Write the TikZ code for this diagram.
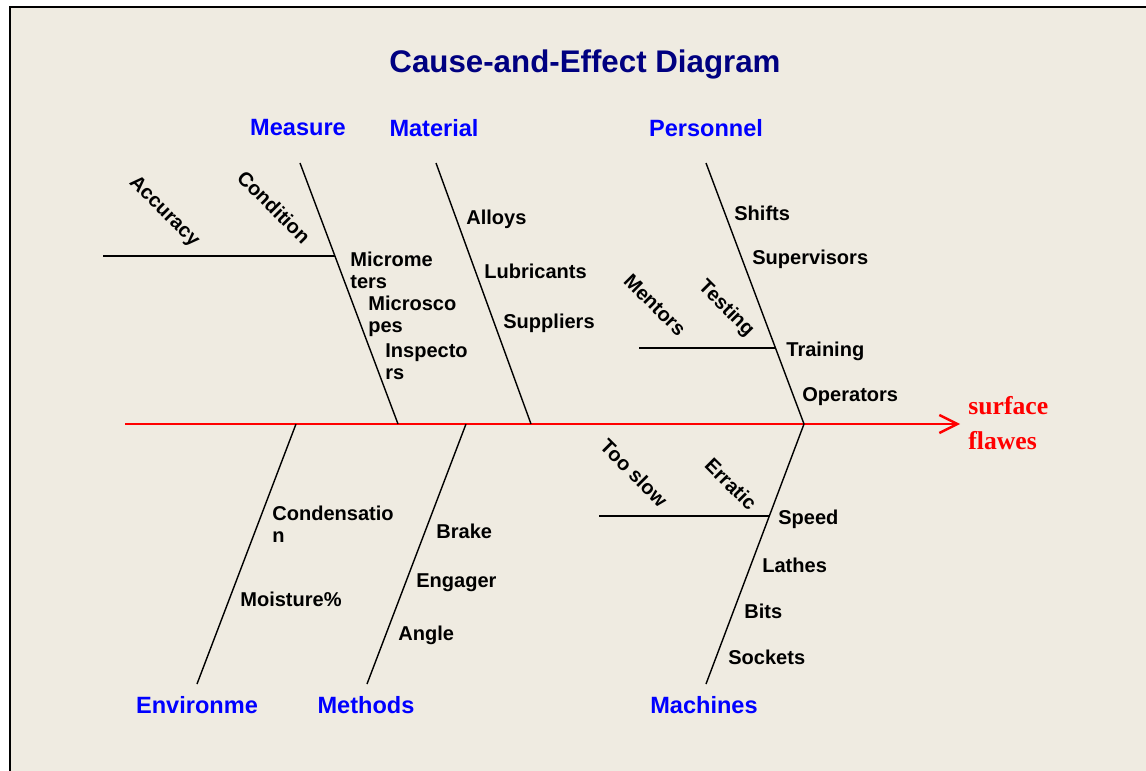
\documentclass[tikz,border=0pt]{standalone}
\usepackage{fontspec}
\setmainfont{Liberation Sans}
\newfontfamily\effectfont{Liberation Serif}
\usetikzlibrary{arrows.meta}
\definecolor{paper}{RGB}{239,235,225}
\definecolor{navy}{RGB}{0,0,128}
\begin{document}
\begin{tikzpicture}[
		bone/.style={draw=black,line width=0.8pt},
		cause/.style={anchor=west,align=left,inner sep=0pt,font=\fontsize{11.4}{12.5}\selectfont\bfseries},
		category/.style={text=blue,inner sep=0pt,font=\fontsize{13.4}{15}\selectfont\bfseries},
		subcause/.style={rotate=-45,inner sep=0pt,font=\fontsize{11.4}{12.5}\selectfont\bfseries}
	]
	\useasboundingbox (0,0) rectangle (22.92,-15.42);
	% paper and frame
	\fill[white] (0,0) rectangle (22.92,-15.42);
	\fill[paper] (0.2,-0.14) rectangle (22.92,-15.42);
	\draw[line width=1.1pt] (0.2,-15.42)--(0.2,-0.14)--(22.92,-0.14);
	% title
	\node[text=navy,font=\fontsize{17.8}{20}\selectfont\bfseries] (title) at (11.7,-1.28) {Cause-and-Effect Diagram};
	% spine and effect
	\coordinate (tail) at (2.5,-8.48);
	\coordinate (head) at (19.2,-8.48);
	\draw[red,line width=1.1pt,-{Straight Barb[length=3.6mm,width=3.6mm,line width=1.4pt]}] (tail)--(head);
	\node[anchor=west,align=left,text=red,inner sep=0pt,font=\effectfont\fontsize{14.6}{20}\selectfont\bfseries] (effect) at (19.36,-8.47) {surface\\flawes};
	% main bones
	\coordinate (meas) at (6.0,-3.26);
	\coordinate (meas-j) at (7.96,-8.48);
	\coordinate (mat) at (8.72,-3.26);
	\coordinate (mat-j) at (10.62,-8.48);
	\coordinate (pers) at (14.12,-3.26);
	\coordinate (pers-j) at (16.08,-8.48);
	\coordinate (env) at (3.94,-13.68);
	\coordinate (env-j) at (5.92,-8.48);
	\coordinate (meth) at (7.34,-13.68);
	\coordinate (meth-j) at (9.32,-8.48);
	\coordinate (mach) at (14.12,-13.68);
	\coordinate (mach-j) at (16.08,-8.48);
	\draw[bone] (meas)--(meas-j);
	\draw[bone] (mat)--(mat-j);
	\draw[bone] (pers)--(pers-j);
	\draw[bone] (env)--(env-j);
	\draw[bone] (meth)--(meth-j);
	\draw[bone] (mach)--(mach-j);
	% side bones
	\coordinate (micro-a) at (2.06,-5.12);
	\coordinate (micro-b) at (6.70,-5.12);
	\coordinate (train-a) at (12.78,-6.96);
	\coordinate (train-b) at (15.51,-6.96);
	\coordinate (speed-a) at (11.98,-10.32);
	\coordinate (speed-b) at (15.39,-10.32);
	\draw[bone] (micro-a)--(micro-b);
	\draw[bone] (train-a)--(train-b);
	\draw[bone] (speed-a)--(speed-b);
	% categories
	\node[category] (measure) at (5.96,-2.56) {Measure};
	\node[category] (material) at (8.68,-2.56) {Material};
	\node[category] (personnel) at (14.12,-2.56) {Personnel};
	\node[category] (environ) at (3.94,-14.1) {Environme};
	\node[category] (methods) at (7.32,-14.1) {Methods};
	\node[category] (machines) at (14.08,-14.1) {Machines};
	% causes
	\node[cause] (micrometers) at (7.0,-5.4) {Microme\\ters};
	\node[cause] (microscopes) at (7.36,-6.32) {Microsco\\pes};
	\node[cause] (inspectors) at (7.7,-7.24) {Inspecto\\rs};
	\node[cause] (alloys) at (9.32,-4.38) {Alloys};
	\node[cause] (lubricants) at (9.68,-5.42) {Lubricants};
	\node[cause] (suppliers) at (10.06,-6.46) {Suppliers};
	\node[cause] (shifts) at (14.68,-4.26) {Shifts};
	\node[cause] (supervisors) at (15.04,-5.18) {Supervisors};
	\node[cause] (training) at (15.72,-7.02) {Training};
	\node[cause] (operators) at (16.04,-7.94) {Operators};
	\node[cause] (condensation) at (5.44,-10.48) {Condensatio\\n};
	\node[cause] (moisture) at (4.8,-11.98) {Moisture\%};
	\node[cause] (brake) at (8.72,-10.62) {Brake};
	\node[cause] (engager) at (8.32,-11.66) {Engager};
	\node[cause] (angle) at (7.96,-12.7) {Angle};
	\node[cause] (speed) at (15.56,-10.38) {Speed};
	\node[cause] (lathes) at (15.24,-11.3) {Lathes};
	\node[cause] (bits) at (14.88,-12.22) {Bits};
	\node[cause] (sockets) at (14.56,-13.14) {Sockets};
	% sub-causes
	\node[subcause] (accuracy) at (3.28,-4.24) {Accuracy};
	\node[subcause] (condition) at (5.48,-4.14) {Condition};
	\node[subcause] (mentors) at (13.1,-6.1) {Mentors};
	\node[subcause] (testing) at (14.52,-6.18) {Testing};
	\node[subcause] (tooslow) at (12.68,-9.46) {Too slow};
	\node[subcause] (erratic) at (14.62,-9.68) {Erratic};
\end{tikzpicture}
\end{document}
